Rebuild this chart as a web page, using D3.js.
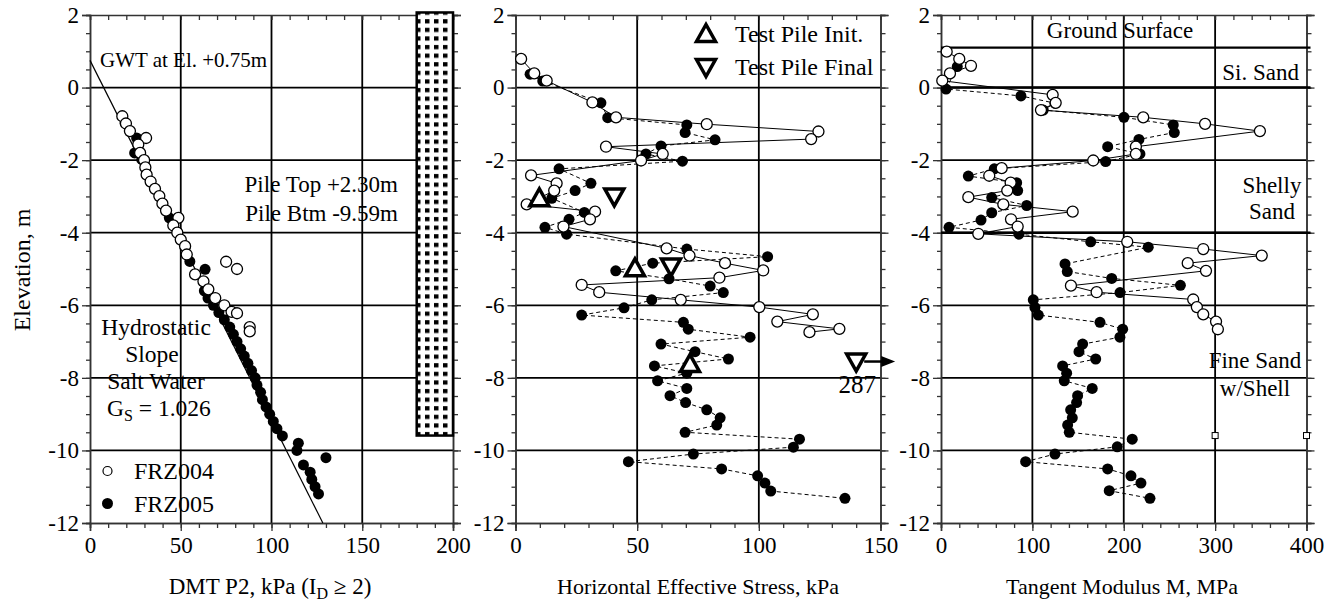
<!DOCTYPE html>
<html><head><meta charset="utf-8">
<script src="https://cdn.jsdelivr.net/npm/d3@7"></script>
<style>
body{margin:0;background:#fff;}
svg{display:block;font-family:"Liberation Serif","Times New Roman",serif;}
</style></head><body>
<svg id="chart" width="1339" height="605"></svg>
<script>
// ---- shared elevation axis (m) ----
const elevationTicks = [2, 0, -2, -4, -6, -8, -10, -12];
const elevationGrid = [0, -2, -4, -6, -8, -10];

// ---- panel 1: DMT P2 (kPa) ----
const p2Ticks = [0, 50, 100, 150, 200];
const p2FRZ004 = [
  [17.8,-0.79],[19.8,-0.99],[22.0,-1.20],[30.9,-1.39],[26.6,-1.57],[27.6,-1.80],[29.8,-2.00],
  [30.5,-2.20],[31.2,-2.40],[33.4,-2.59],[35.8,-2.79],[38.2,-2.99],[39.9,-3.20],[41.9,-3.39],
  [48.7,-3.59],[45.9,-3.80],[48.1,-4.00],[50.0,-4.19],[52.4,-4.37],[53.3,-4.60],[75.0,-4.80],
  [81.0,-5.00],[57.9,-5.15],[62.5,-5.34],[65.2,-5.56],[69.0,-5.80],[74.0,-6.00],[78.0,-6.18],
  [81.0,-6.22],[88.0,-6.60],[88.0,-6.72]
];
const p2FRZ005 = [
  [19.3,-0.97],[25.7,-1.39],[24.6,-1.80],[28.5,-1.98],[43.7,-3.59],[55.0,-4.79],[63.4,-5.01],
  [63.0,-5.60],[65.0,-5.80],[68.0,-6.00],[71.0,-6.20],[74.0,-6.40],[77.0,-6.60],[79.0,-6.80],
  [81.0,-7.00],[83.0,-7.20],[85.0,-7.40],[87.0,-7.60],[89.0,-7.80],[91.0,-8.00],[92.0,-8.20],
  [94.0,-8.40],[95.0,-8.60],[97.0,-8.80],[99.0,-9.00],[101.0,-9.20],[103.0,-9.40],[106.0,-9.60],
  [114.8,-9.80],[114.0,-10.00],[130.0,-10.20],[117.6,-10.40],[121.3,-10.60],[122.2,-10.80],
  [124.0,-11.00],[125.9,-11.20]
];
// hydrostatic salt-water gradient from the water table at +0.75 m
const hydrostaticLine = [[0, 0.75], [128.3, -12]];
const pileTop = 2.30, pileBottom = -9.59;

// ---- panel 2: horizontal effective stress (kPa) ----
const stressTicks = [0, 50, 100, 150];
const stressFRZ004 = [
  [2.3,0.79],[7.7,0.39],[12.8,0.19],[31.6,-0.41],[41.3,-0.82],[78.6,-1.01],[124.5,-1.21],
  [121.5,-1.42],[37.2,-1.63],[60.5,-1.83],[51.6,-2.01],[6.4,-2.42],[16.9,-2.64],[15.9,-2.84],
  [4.6,-3.22],[32.7,-3.42],[30.6,-3.63],[19.7,-3.83],[62.1,-4.43],[71.5,-4.63],[86.1,-4.84],
  [101.8,-5.04],[83.8,-5.24],[27.2,-5.44],[34.4,-5.64],[67.9,-5.85],[100.2,-6.05],[122.2,-6.25],
  [107.6,-6.45],[133.1,-6.65],[120.8,-6.74]
];
const stressFRZ005 = [
  [6.0,0.37],[11.2,0.18],[35.1,-0.42],[37.9,-0.83],[70.4,-1.03],[69.7,-1.24],[82.0,-1.44],
  [59.8,-1.61],[53.6,-1.83],[68.6,-2.03],[17.9,-2.24],[31.0,-2.64],[24.5,-2.84],[14.9,-3.05],
  [28.3,-3.44],[22.0,-3.63],[12.1,-3.85],[21.0,-4.04],[70.4,-4.45],[103.6,-4.66],[56.4,-4.84],
  [41.2,-5.05],[63.1,-5.27],[80.0,-5.47],[85.4,-5.65],[56.0,-5.85],[44.6,-6.07],[27.2,-6.27],
  [69.0,-6.47],[71.0,-6.66],[96.4,-6.88],[59.8,-7.07],[73.8,-7.28],[87.5,-7.48],[57.1,-7.67],
  [70.4,-7.87],[58.4,-8.08],[70.4,-8.29],[63.5,-8.49],[69.9,-8.68],[78.6,-8.88],[84.1,-9.10],
  [82.7,-9.30],[69.7,-9.50],[116.7,-9.69],[114.2,-9.91],[73.1,-10.10],[46.4,-10.31],
  [84.7,-10.51],[99.5,-10.70],[102.5,-10.90],[104.9,-11.12],[135.4,-11.32]
];
const testPileInit = [[9.8,-3.05],[49.1,-4.98],[71.7,-7.62]];
const testPileFinal = [[40.6,-3.00],[63.9,-4.93],[287,-7.55]];

// ---- panel 3: tangent modulus M (MPa) ----
const modTicks = [0, 100, 200, 300, 400];
const modFRZ004 = [
  [6.2,0.99],[20.0,0.79],[32.8,0.60],[9.8,0.39],[1.4,0.19],[122.2,-0.20],[125.5,-0.42],
  [109.4,-0.62],[221.3,-0.82],[289.0,-1.00],[349.0,-1.20],[213.3,-1.63],[213.3,-1.83],
  [166.6,-2.01],[66.4,-2.22],[52.8,-2.43],[76.2,-2.62],[72.5,-2.84],[29.9,-3.02],[68.2,-3.22],
  [144.1,-3.42],[76.6,-3.63],[83.9,-3.83],[40.8,-4.03],[203.8,-4.25],[287.0,-4.45],[351.0,-4.63],
  [270.0,-4.84],[290.0,-5.05],[142.2,-5.46],[170.3,-5.64],[276.0,-5.84],[280.0,-6.05],
  [287.0,-6.25],[301.0,-6.45],[303.0,-6.66]
];
const modFRZ005 = [
  [17.8,0.58],[5.5,-0.04],[87.5,-0.23],[124.7,-0.43],[111.9,-0.62],[200.2,-0.82],[254.2,-1.03],
  [255.3,-1.24],[216.6,-1.43],[182.4,-1.63],[217.7,-1.83],[180.2,-2.04],[58.3,-2.24],[29.9,-2.44],
  [82.8,-2.62],[83.9,-2.84],[55.5,-3.03],[93.8,-3.25],[55.5,-3.45],[43.8,-3.65],[8.8,-3.85],
  [85.3,-4.04],[163.8,-4.25],[226.8,-4.40],[135.7,-4.86],[138.2,-5.07],[186.8,-5.26],
  [262.0,-5.45],[195.9,-5.65],[101.0,-5.85],[102.8,-6.06],[106.5,-6.27],[174.0,-6.47],
  [198.8,-6.66],[195.8,-6.88],[155.0,-7.07],[151.0,-7.28],[169.3,-7.48],[133.1,-7.67],
  [137.5,-7.87],[134.9,-8.08],[165.5,-8.29],[149.5,-8.49],[148.4,-8.68],[141.9,-8.88],
  [143.7,-9.10],[138.6,-9.30],[140.4,-9.50],[209.3,-9.69],[192.9,-9.90],[124.7,-10.10],
  [92.6,-10.31],[182.4,-10.51],[207.9,-10.70],[218.8,-10.90],[184.1,-11.11],[228.7,-11.32]
];
const layerBoundaries = [1.1, 0, -4];
const pileTipMarks = [[300, -9.59], [400, -9.59]];

// ---- layout ----
const svg = d3.select("#chart");
const plotTop = 15, plotBottom = 523;
const y = d3.scaleLinear().domain([2, -12]).range([plotTop, plotBottom]);

const panels = [
  {x: d3.scaleLinear().domain([0, 200]).range([90, 453]), ticks: p2Ticks, minor: 10, grid: [50, 100, 150]},
  {x: d3.scaleLinear().domain([0, 150]).range([515.5, 880.5]), ticks: stressTicks, minor: 10, grid: [50, 100]},
  {x: d3.scaleLinear().domain([0, 400]).range([941, 1306.5]), ticks: modTicks, minor: 20, grid: [100, 200, 300]}
];

const minorElev = d3.range(2, -12.01, -0.5);

panels.forEach(p => {
  const g = svg.append("g");
  const [x0, x1] = p.x.range();
  const minorX = d3.range(p.x.domain()[0], p.x.domain()[1] + 0.001, p.minor);

  // grid
  g.selectAll(".hg").data(elevationGrid).join("line")
    .attr("x1", x0).attr("x2", x1).attr("y1", d => y(d)).attr("y2", d => y(d))
    .attr("stroke", "#000").attr("stroke-width", 1.8);
  g.selectAll(".vg").data(p.grid).join("line")
    .attr("x1", d => p.x(d)).attr("x2", d => p.x(d)).attr("y1", plotTop).attr("y2", plotBottom)
    .attr("stroke", "#000").attr("stroke-width", 1.8);

  // left axis with labels + minor ticks
  const left = g.append("g").attr("transform", `translate(${x0},0)`)
    .call(d3.axisLeft(y).tickValues(elevationTicks).tickSize(8).tickPadding(3)
      .tickFormat(d => String(d)));
  left.append("g").call(d3.axisLeft(y).tickValues(minorElev).tickSize(4).tickFormat(""));
  // right axis ticks
  const right = g.append("g").attr("transform", `translate(${x1},0)`);
  right.call(d3.axisRight(y).tickValues(elevationTicks).tickSize(8).tickFormat(""));
  right.append("g").call(d3.axisRight(y).tickValues(minorElev).tickSize(5).tickFormat(""));
  // bottom axis
  const bot = g.append("g").attr("transform", `translate(0,${plotBottom})`)
    .call(d3.axisBottom(p.x).tickValues(p.ticks).tickSize(8).tickPadding(6).tickFormat(d => String(d)));
  bot.append("g").call(d3.axisBottom(p.x).tickValues(minorX).tickSize(5).tickFormat(""));
  // top axis: inward minor ticks
  const topAx = g.append("g").attr("transform", `translate(0,${plotTop})`)
    .call(d3.axisTop(p.x).tickValues(minorX).tickSize(-5).tickFormat(""));

  [left, right, bot, topAx].forEach(a => {
    a.selectAll(".domain").attr("stroke", "#333").attr("stroke-width", 1.5);
    a.selectAll(".tick line").attr("stroke", "#333").attr("stroke-width", 1.3);
    a.selectAll("text").attr("font-family", "Liberation Serif").attr("font-size", 23).attr("fill", "#000");
  });
  p.g = g;
});

const [P1, P2, P3] = panels;

// ---------- panel 1 ----------
{
  const g = P1.g;
  const x = P1.x;
  // pile shown as a dotted column
  const defs = svg.append("defs");
  const pat = defs.append("pattern").attr("id", "dots").attr("patternUnits", "userSpaceOnUse")
    .attr("width", 9).attr("height", 8.6);
  pat.append("rect").attr("width", 9).attr("height", 8.6).attr("fill", "#fff");
  pat.append("rect").attr("x", 2).attr("y", 2).attr("width", 4.5).attr("height", 4.2).attr("fill", "#000");
  g.append("rect")
    .attr("x", x(180)).attr("width", x(200) - x(180))
    .attr("y", y(2.07)).attr("height", y(pileBottom) - y(2.07))
    .attr("fill", "url(#dots)").attr("stroke", "#000").attr("stroke-width", 2.5);

  g.append("path").datum(hydrostaticLine)
    .attr("d", d3.line().x(d => x(d[0])).y(d => y(d[1])))
    .attr("stroke", "#000").attr("stroke-width", 1.2).attr("fill", "none");

  g.selectAll(".f5").data(p2FRZ005).join("circle")
    .attr("cx", d => x(d[0])).attr("cy", d => y(d[1])).attr("r", 5.5).attr("fill", "#000");
  g.selectAll(".f4").data(p2FRZ004).join("circle")
    .attr("cx", d => x(d[0])).attr("cy", d => y(d[1])).attr("r", 5.5)
    .attr("fill", "#fff").attr("stroke", "#000").attr("stroke-width", 1.3);

  const txt = (s, tx, ty, size, anchor = "start") => g.append("text").attr("x", tx).attr("y", ty)
    .attr("font-size", size).attr("text-anchor", anchor).text(s);
  txt(`GWT at El. +${hydrostaticLine[0][1].toFixed(2)}m`, 100, 67, 21);
  txt(`Pile Top +${pileTop.toFixed(2)}m`, 398, 192, 23, "end");
  txt(`Pile Btm ${pileBottom.toFixed(2)}m`, 398, 221, 23, "end");
  txt("Hydrostatic", 156, 335, 23.5, "middle");
  txt("Slope", 152, 362, 23.5, "middle");
  txt("Salt Water", 156, 389, 23.5, "middle");
  const gs = g.append("text").attr("x", 107).attr("y", 416).attr("font-size", 23.5);
  gs.append("tspan").text("G");
  gs.append("tspan").attr("font-size", 16).attr("dy", 5).text("S");
  gs.append("tspan").attr("dy", -5).text(" = 1.026");

  // legend
  const leg = g.append("g");
  leg.append("circle").attr("cx", 107.5).attr("cy", 471).attr("r", 4.5).attr("fill", "#fff").attr("stroke", "#000").attr("stroke-width", 1.2);
  leg.append("circle").attr("cx", 107.5).attr("cy", 503.5).attr("r", 5.5).attr("fill", "#000");
  leg.append("text").attr("x", 134).attr("y", 479).attr("font-size", 24).text("FRZ004");
  leg.append("text").attr("x", 134).attr("y", 512).attr("font-size", 24).text("FRZ005");
}

// ---------- series with connecting lines (panels 2 and 3) ----------
function drawSeries(g, x, open, filled) {
  const line = d3.line().x(d => x(d[0])).y(d => y(d[1]));
  g.append("path").datum(filled).attr("d", line).attr("fill", "none")
    .attr("stroke", "#000").attr("stroke-width", 1).attr("stroke-dasharray", "4,3");
  g.append("path").datum(open).attr("d", line).attr("fill", "none")
    .attr("stroke", "#000").attr("stroke-width", 1);
  g.append("g").selectAll("circle").data(filled).join("circle")
    .attr("cx", d => x(d[0])).attr("cy", d => y(d[1])).attr("r", 5.5).attr("fill", "#000");
  g.append("g").selectAll("circle").data(open).join("circle")
    .attr("cx", d => x(d[0])).attr("cy", d => y(d[1])).attr("r", 5.5)
    .attr("fill", "#fff").attr("stroke", "#000").attr("stroke-width", 1.3);
}

const triPath = up => up ? "M0,-9.5L9.5,7.5L-9.5,7.5Z" : "M0,9.5L9.5,-7.5L-9.5,-7.5Z";

// ---------- panel 2 ----------
{
  const g = P2.g, x = P2.x;
  drawSeries(g, x, stressFRZ004, stressFRZ005);
  const xMax = x.domain()[1];
  const markers = g.append("g");
  markers.selectAll(".ti").data(testPileInit).join("path")
    .attr("transform", d => `translate(${x(Math.min(d[0], xMax - 10))},${y(d[1])})`)
    .attr("d", triPath(true)).attr("fill", "#fff").attr("stroke", "#000").attr("stroke-width", 3.5);
  markers.selectAll(".tf").data(testPileFinal).join("path")
    .attr("transform", d => `translate(${x(Math.min(d[0], xMax - 10))},${y(d[1])})`)
    .attr("d", triPath(false)).attr("fill", "#fff").attr("stroke", "#000").attr("stroke-width", 3.5);
  // off-scale value flagged with an arrow and its value
  testPileFinal.filter(d => d[0] > xMax).forEach(d => {
    const cx = x(xMax - 10), cy = y(d[1]);
    g.append("line").attr("x1", cx + 8).attr("x2", cx + 27).attr("y1", cy).attr("y2", cy)
      .attr("stroke", "#000").attr("stroke-width", 2.5);
    g.append("path").attr("d", `M${cx + 25},${cy - 5.5}L${cx + 39},${cy}L${cx + 25},${cy + 5.5}Z`).attr("fill", "#000");
    g.append("text").attr("x", cx + 1).attr("y", cy + 31).attr("text-anchor", "middle")
      .attr("font-size", 25).text(d3.format("d")(d[0]));
  });
  // legend
  g.append("path").attr("transform", "translate(706,34)").attr("d", triPath(true))
    .attr("fill", "#fff").attr("stroke", "#000").attr("stroke-width", 3.5);
  g.append("path").attr("transform", "translate(706,67)").attr("d", triPath(false))
    .attr("fill", "#fff").attr("stroke", "#000").attr("stroke-width", 3.5);
  g.append("text").attr("x", 735).attr("y", 42).attr("font-size", 24).text("Test Pile Init.");
  g.append("text").attr("x", 735).attr("y", 75).attr("font-size", 24).text("Test Pile Final");
}

// ---------- panel 3 ----------
{
  const g = P3.g, x = P3.x;
  const [x0, x1] = x.range();
  g.selectAll(".lb").data(layerBoundaries).join("line")
    .attr("x1", x0).attr("x2", x1 + 4).attr("y1", d => y(d)).attr("y2", d => y(d))
    .attr("stroke", "#000").attr("stroke-width", 2.4);
  drawSeries(g, x, modFRZ004, modFRZ005);
  g.selectAll(".pt").data(pileTipMarks).join("rect")
    .attr("x", d => x(d[0]) - 3).attr("y", d => y(d[1]) - 3).attr("width", 6).attr("height", 6)
    .attr("fill", "#fff").attr("stroke", "#000").attr("stroke-width", 1);
  const txt = (s, tx, ty, anchor) => g.append("text").attr("x", tx).attr("y", ty)
    .attr("font-size", 23).attr("text-anchor", anchor).text(s);
  txt("Ground Surface", 1120, 38, "middle");
  txt("Si. Sand", 1299, 80, "end");
  txt("Shelly", 1272, 193, "middle");
  txt("Sand", 1272, 219, "middle");
  txt("Fine Sand", 1255, 368, "middle");
  txt("w/Shell", 1255, 396, "middle");
}

// ---------- axis titles ----------
const t1 = svg.append("text").attr("x", 270).attr("y", 594).attr("font-size", 23).attr("text-anchor", "middle");
t1.append("tspan").text("DMT P2, kPa (I");
t1.append("tspan").attr("font-size", 16).attr("dy", 5).text("D");
t1.append("tspan").attr("dy", -5).text(" \u2265 2)");
svg.append("text").attr("x", 698).attr("y", 594).attr("font-size", 22).attr("text-anchor", "middle")
  .text("Horizontal Effective Stress, kPa");
svg.append("text").attr("x", 1122).attr("y", 594).attr("font-size", 22).attr("text-anchor", "middle")
  .text("Tangent Modulus M, MPa");
svg.append("text").attr("transform", "translate(30,270) rotate(-90)").attr("font-size", 24)
  .attr("text-anchor", "middle").text("Elevation, m");
</script>
</body></html>
